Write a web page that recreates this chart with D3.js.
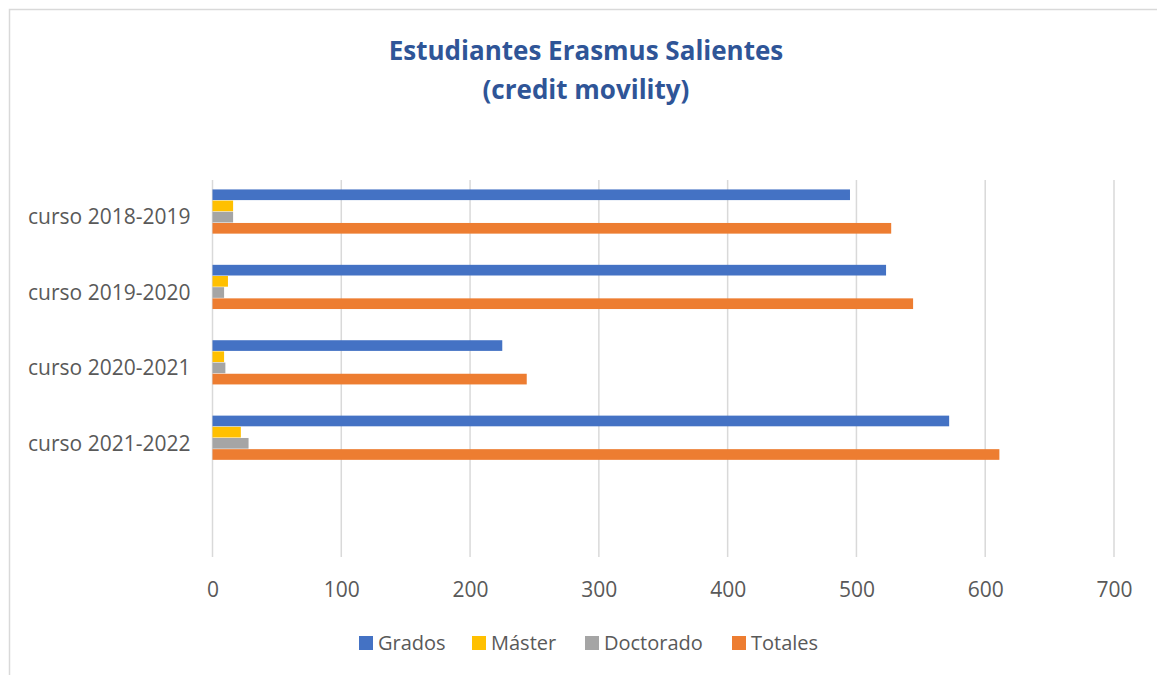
<!DOCTYPE html>
<html lang="es">
<head>
<meta charset="UTF-8">
<title>Estudiantes Erasmus Salientes</title>
<script src="https://d3js.org/d3.v7.min.js"></script>
<style>
    body { margin: 0; background: #fff; }
    text { font-family: "Open Sans", "Noto Sans", sans-serif; }
</style>
</head>
<body>
<div class="container"></div>
<script>
    // data
    const cursos = ["curso 2018-2019", "curso 2019-2020", "curso 2020-2021", "curso 2021-2022", ""];
    const series = ["Grados", "Máster", "Doctorado", "Totales"];
    const grados = [495, 523, 225, 572];
    const master = [16, 12, 9, 22];
    const doctorado = [16, 9, 10, 28];
    const totales = [527, 544, 244, 611];
    const ticks = [0, 100, 200, 300, 400, 500, 600, 700];
    const colores = ["#4472C4", "#FFC000", "#A5A5A5", "#ED7D31"];

    const W = 1157, H = 675;
    const svg = d3.select(".container").append("svg")
        .attr("width", W).attr("height", H);

    // chart frame (only top/left edges visible)
    svg.append("path")
        .attr("d", `M9.5,${H} V9.5 H${W}`)
        .attr("fill", "none").attr("stroke", "#D9D9D9").attr("stroke-width", 1.5);

    // title
    const title = svg.append("text")
        .attr("text-anchor", "middle")
        .attr("fill", "#2F5597")
        .attr("font-weight", "bold")
        .attr("font-size", 26);
    title.append("tspan").attr("x", 586).attr("y", 60).text("Estudiantes Erasmus Salientes");
    title.append("tspan").attr("x", 586).attr("y", 99).text("(credit movility)");

    const plot = {left: 212.5, right: 1114, top: 180, bottom: 557};

    const x = d3.scaleLinear().domain([0, 700]).range([plot.left, plot.right]);
    const y = d3.scaleBand().domain(cursos).range([plot.top, plot.bottom]);
    const bw = y.bandwidth();
    const yi = d3.scaleBand().domain(series).range([bw * 0.125, bw * 0.718]);

    // gridlines
    svg.append("g").selectAll("line")
        .data(ticks)
        .join("line")
        .attr("x1", d => x(d)).attr("x2", d => x(d))
        .attr("y1", plot.top).attr("y2", plot.bottom)
        .attr("stroke", "#D9D9D9").attr("stroke-width", 1.5);

    // x axis labels
    const xAxis = svg.append("g")
        .attr("transform", `translate(0,${plot.bottom})`)
        .call(d3.axisBottom(x).tickValues(ticks).tickSize(0).tickPadding(25));
    xAxis.select(".domain").remove();
    xAxis.selectAll("text")
        .attr("font-size", 21).attr("fill", "#595959")
        .attr("font-family", "'Open Sans', sans-serif");

    // y axis labels
    const yAxis = svg.append("g")
        .attr("transform", `translate(${plot.left},0)`)
        .call(d3.axisLeft(y).tickSize(0).tickPadding(22));
    yAxis.select(".domain").remove();
    yAxis.selectAll("text")
        .attr("font-size", 21).attr("fill", "#595959")
        .attr("font-family", "'Open Sans', sans-serif");

    // bars
    const valores = [grados, master, doctorado, totales];
    const rows = [];
    cursos.slice(0, 4).forEach((c, i) => {
        series.forEach((s, j) => rows.push({curso: c, serie: s, valor: valores[j][i], color: colores[j]}));
    });

    svg.append("g").selectAll("rect")
        .data(rows)
        .join("rect")
        .attr("x", x(0))
        .attr("y", d => y(d.curso) + yi(d.serie))
        .attr("width", d => x(d.valor) - x(0))
        .attr("height", yi.bandwidth() - 0.5)
        .attr("fill", d => d.color);

    // legend
    const legendX = [359, 472, 585, 732];
    const legend = svg.append("g").selectAll("g")
        .data(series)
        .join("g")
        .attr("transform", (d, i) => `translate(${legendX[i]},643)`);
    legend.append("rect")
        .attr("x", 0).attr("y", -7).attr("width", 14).attr("height", 14)
        .attr("fill", (d, i) => colores[i]);
    legend.append("text")
        .attr("x", 19).attr("y", 7)
        .attr("font-size", 20).attr("fill", "#595959")
        .text(d => d);
</script>
</body>
</html>
